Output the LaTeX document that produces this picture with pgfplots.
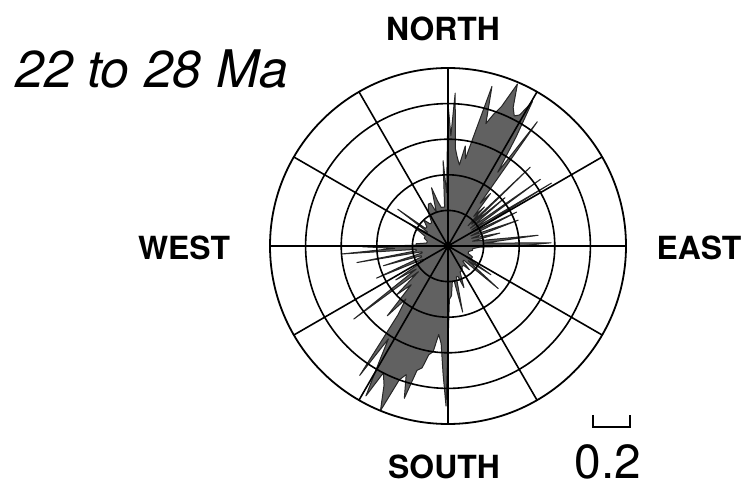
\documentclass[border=0pt]{standalone}
\usepackage{pgfplots}
\pgfplotsset{compat=1.18}
\usepackage{pgfplotstable}
\usepgfplotslibrary{polar}
\usepackage{fontspec}
\setmainfont{TeX Gyre Heros}

% rose outline: azimuth (deg, clockwise from north) and length
\pgfplotstableread{
az r
0 0.80
1.5 0.62
2.7 0.86
4.3 0.55
6 0.50
8 0.46
9.8 0.57
11.3 0.50
13 0.62
15.4 0.93
17.2 0.72
19 0.78
21 0.84
23.2 0.99
25.2 0.86
27 0.82
28.7 0.84
30.3 0.94
32 0.72
34 0.50
35.7 0.86
37 0.30
39 0.38
41 0.22
43 0.30
44.8 0.16
46.2 0.64
47.5 0.18
49.7 0.42
51.5 0.16
54.2 0.64
56 0.16
58.7 0.68
60.5 0.15
63.7 0.43
66 0.14
69.8 0.42
72 0.14
76 0.30
79 0.14
83.2 0.51
85.5 0.20
88.2 0.58
90 0.40
92 0.18
96 0.14
100 0.14
105 0.12
110 0.12
114 0.15
118 0.15
121 0.12
123.8 0.29
126 0.14
130.3 0.37
132 0.12
136 0.12
138 0.18
141 0.14
146 0.14
150 0.16
155 0.16
159 0.25
162 0.18
165 0.18
167.5 0.38
170 0.20
173 0.20
176 0.28
178.5 0.30
180.7 0.90
182.2 0.72
184 0.55
186 0.50
188 0.60
190 0.62
192 0.70
194 0.72
196 0.89
198 0.76
200 0.80
202.3 1.00
204.7 0.86
207 0.80
208.7 0.96
210.7 0.76
212.7 0.62
214.3 0.88
216 0.48
218.5 0.38
221 0.52
223.5 0.30
226.5 0.40
229 0.22
232.2 0.67
234 0.22
237 0.35
239 0.16
242 0.16
245.8 0.44
247.5 0.16
250 0.16
253 0.38
255 0.15
257.5 0.15
259.7 0.52
261.5 0.18
264 0.18
265.7 0.60
267.5 0.30
269.5 0.48
271.5 0.18
274 0.18
278 0.12
283 0.12
288 0.14
293 0.14
297 0.18
300 0.25
302 0.14
304.5 0.14
306.2 0.35
308 0.16
312 0.16
317 0.20
321 0.16
325 0.16
330 0.22
335 0.26
338 0.26
341 0.20
344.2 0.34
347 0.26
350 0.22
353 0.22
355 0.22
356.7 0.48
358.5 0.30
}\rosedata

\begin{document}
\begin{tikzpicture}
\path[use as bounding box] (0,0) rectangle (747bp,487bp);
\begin{polaraxis}[
    at={(448bp,241bp)}, anchor=origin,
    scale only axis,
    width=356bp, height=356bp,
    xmin=0, xmax=360, ymin=0, ymax=1,
    xtick={0,30,...,330},
    ytick={0.2,0.4,0.6,0.8},
    xticklabels={}, yticklabels={},
    major tick length=0pt,
    grid=major,
    major grid style={black, line width=1.6bp},
    axis line style={black, line width=1.8bp},
    axis on top,
]
\addplot[fill=black!62, draw=black!85, line width=1bp, line join=round]
    table[x expr={mod(450-\thisrow{az},360)}, y=r] {\rosedata} -- cycle;
\end{polaraxis}

% labels
\node[anchor=base west, font=\fontsize{52}{52}\selectfont\itshape]
    at (12bp,399bp) {22 to 28 Ma};
\node[anchor=base, font=\fontsize{32}{32}\selectfont\bfseries] at (443bp,446bp) {NORTH};
\node[anchor=base, font=\fontsize{32}{32}\selectfont\bfseries] at (184bp,227bp) {WEST};
\node[anchor=base, font=\fontsize{32}{32}\selectfont\bfseries] at (699bp,227bp) {EAST};
\node[anchor=base, font=\fontsize{32}{32}\selectfont\bfseries] at (444bp,9bp) {SOUTH};

% scale bar
\draw[line width=1.4bp] (593bp,72bp) -- (593bp,60bp) -- (630bp,60bp) -- (630bp,72bp);
\node[anchor=base, font=\fontsize{48}{48}\selectfont] at (608bp,9bp) {0.2};
\end{tikzpicture}
\end{document}
